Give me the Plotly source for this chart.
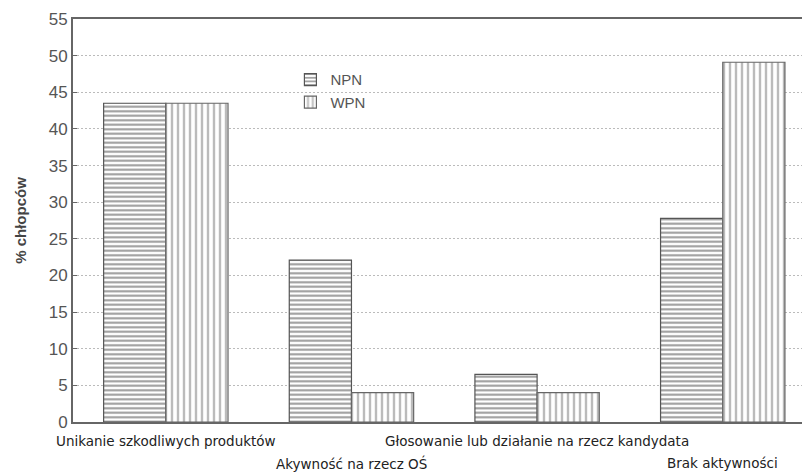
import plotly.graph_objects as go

categories = ["Unikanie szkodliwych produktów", "Akywność na rzecz OŚ",
              "Głosowanie lub działanie na rzecz kandydata", "Brak aktywności"]
label_rows = [0, 1, 0, 1]
npn = [43.5, 22.1, 6.5, 27.8]
wpn = [43.5, 4.0, 4.0, 49.1]
y_ticks = list(range(0, 56, 5))

fig = go.Figure()
fig.add_trace(go.Bar(
    x=categories, y=npn, name="NPN",
    marker=dict(color="white", line=dict(color="#555", width=1.2),
                pattern=dict(shape="-", fgcolor="#333", bgcolor="white", size=4.5, solidity=0.45)),
))
fig.add_trace(go.Bar(
    x=categories, y=wpn, name="WPN",
    marker=dict(color="white", line=dict(color="#666", width=1.2),
                pattern=dict(shape="|", fgcolor="#777", bgcolor="white", size=6, solidity=0.4)),
))

for cat, row in zip(categories, label_rows):
    fig.add_annotation(x=cat, xref="x", y=0, yref="paper", yanchor="top",
                       yshift=-9 - 22 * row, text=cat, showarrow=False,
                       font=dict(family="DejaVu Sans", size=13.5, color="#222"))

# page body adds an 8px offset; figure sized to fill the 810x472 window
fig.update_layout(
    width=802, height=464,
    margin=dict(l=65, r=0, t=11, b=50),
    barmode="group", bargap=0.33, bargroupgap=0,
    plot_bgcolor="white", paper_bgcolor="white",
    font=dict(family="Liberation Sans, Arial, sans-serif", color="#333"),
    showlegend=True,
    legend=dict(x=0.295, y=0.89, xanchor="left", yanchor="top",
                font=dict(size=15, color="#555"), bgcolor="rgba(0,0,0,0)",
                tracegroupgap=0, itemwidth=30),
    xaxis=dict(tickmode="array", tickvals=categories, showticklabels=False,
               range=[-0.5, 3.47],
               showline=True, linecolor="#666", automargin=False,
               linewidth=2, mirror=True, ticks=""),
    yaxis=dict(range=[0, 55], tickvals=y_ticks, tickfont=dict(size=17, color="#555"),
               showline=True, linecolor="#666", linewidth=2, ticks="inside", ticklen=4,
               tickcolor="#666", showgrid=True, gridcolor="#bbb", griddash="2px,2px",
               automargin=False,
               title=dict(text="<b>% chłopców</b>", font=dict(size=15, color="#444"), standoff=18)),
)

fig.write_html("out.html")
